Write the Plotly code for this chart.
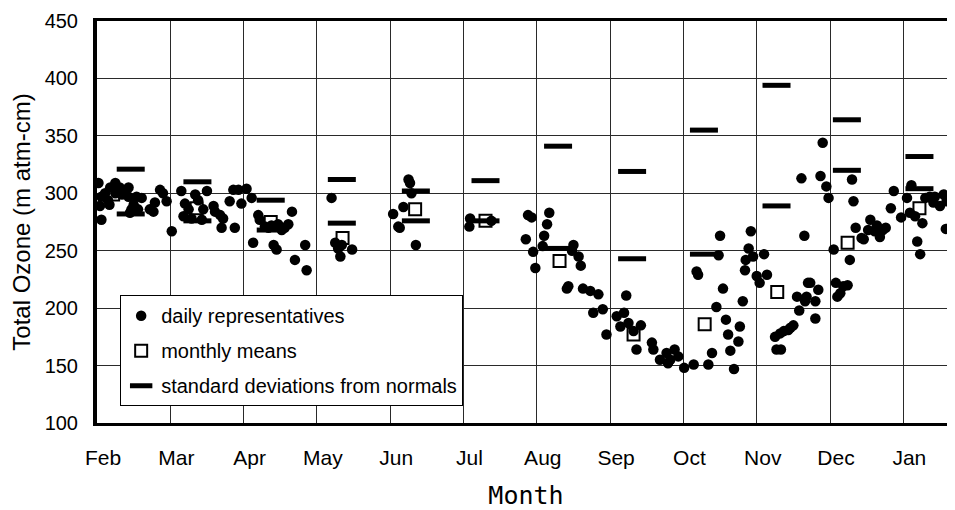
import plotly.graph_objects as go

# ---- data ----
months = ["Feb", "Mar", "Apr", "May", "Jun", "Jul", "Aug", "Sep", "Oct", "Nov", "Dec", "Jan"]

# daily representatives: x = months since 1 Feb (fractional), y = total ozone
daily_x = [
    0.02, 0.06, 0.04, 0.18, 0.25, 0.15, 0.17, 0.31, 0.34, 0.43, 0.43, 0.47, 0.45, 0.56, 0.54,
    0.61, 0.72, 0.77, 0.79, 0.86, 0.90, 0.95, 0.06, 0.11, 0.38, 0.50, 0.25,
    1.02, 1.15, 1.20, 1.34, 1.38, 1.25, 1.18, 1.29, 1.43, 1.50, 1.45, 1.59, 1.61, 1.68, 1.72,
    1.70, 1.81, 1.88, 1.86, 1.93, 1.97,
    2.04, 2.11, 2.20, 2.22, 2.29, 2.34, 2.47, 2.56, 2.61, 2.66, 2.13, 2.41, 2.45, 2.70, 2.84,
    2.86, 2.38, 2.52,
    3.20, 3.25, 3.29, 3.32, 3.48, 3.34,
    4.25, 4.27, 4.29, 4.18, 4.04, 4.13, 4.11, 4.35,
    5.09, 5.08, 5.38, 5.88, 5.93, 5.85, 5.95, 5.98,
    6.17, 6.14, 6.10, 6.08, 6.50, 6.57, 6.60, 6.43, 6.41, 6.63, 6.73, 6.84, 6.77, 6.90, 6.95,
    6.48,
    7.22, 7.09, 7.19, 7.14, 7.25, 7.32, 7.42, 7.36, 7.57, 7.59, 7.68, 7.77, 7.79, 7.82, 7.88,
    7.93,
    8.01, 8.14, 8.34, 8.39, 8.69, 8.50, 8.92, 8.48, 8.18, 8.20, 8.54, 8.81, 8.45, 8.58, 8.61,
    8.77, 8.75, 8.64, 8.89, 8.85, 8.84,
    9.00, 9.04, 8.95, 9.10, 9.14, 9.25, 9.32, 9.43, 9.50, 9.27, 9.33, 9.61, 9.65, 9.55, 9.66,
    9.58, 9.70, 9.90, 9.87, 9.95, 9.98, 9.73, 9.84, 9.68, 9.80, 9.80, 9.37, 9.46,
    10.05, 10.27, 10.08, 10.18, 10.14, 10.24, 10.10, 10.30, 10.32, 10.35, 10.43, 10.55, 10.52,
    10.61, 10.68, 10.76, 10.87, 10.83, 10.97, 10.46, 10.72, 10.64,
    11.11, 11.05, 11.09, 11.16, 11.26, 11.19, 11.23, 11.30, 11.36, 11.41, 11.50, 11.55, 11.59,
    11.58, 11.70, 11.43,
]
daily_y = [
    309, 277, 289, 305, 309, 294, 290, 305, 299, 305, 297, 286, 283, 286, 297,
    296, 286, 284, 292, 303, 300, 293, 297, 300, 300, 290, 300,
    267, 302, 291, 299, 294, 286, 280, 278, 277, 302, 286, 289, 284, 281, 278,
    270, 293, 270, 303, 303, 291,
    304, 296, 281, 277, 271, 270, 273, 270, 273, 284, 257, 255, 251, 242, 255,
    233, 272, 268,
    296, 257, 252, 245, 251, 255,
    312, 309, 300, 288, 282, 270, 271, 255,
    278, 271, 276, 281, 279, 260, 249, 235,
    283, 273, 263, 254, 255, 245, 237, 219, 217, 217, 215, 212, 196, 199, 177,
    250,
    211, 193, 196, 184, 187, 180, 185, 164, 170, 164, 155, 161, 152, 155, 164,
    158,
    148, 151, 151, 161, 147, 263, 267, 246, 232, 229, 217, 206, 201, 190, 177,
    184, 171, 163, 252, 242, 233,
    228, 222, 245, 247, 229, 175, 178, 181, 185, 164, 164, 313, 263, 210, 206,
    198, 222, 344, 315, 306, 296, 222, 216, 210, 206, 191, 180, 183,
    251, 242, 222, 219, 213, 220, 210, 312, 293, 270, 261, 277, 268,
    267, 262, 270, 302, 287, 279, 260, 268, 272,
    307, 296, 283, 280, 274, 258, 247, 296, 297, 292, 289, 299, 293,
    269, 302, 297,
]

# monthly means
mean_x = [0.22, 1.36, 2.37, 3.35, 4.34, 5.30, 6.31, 7.32, 8.29, 9.28, 10.24, 11.22]
mean_y = [299, 287, 275, 261, 286, 276, 241, 177, 186, 214, 257, 287]

# standard deviations from normals (upper and lower marks)
sd_x = [0.46, 1.37, 2.37, 3.34, 4.35, 5.30, 6.29, 7.30, 8.28, 9.27, 10.23, 11.22]
sd_upper = [321, 310, 294, 312, 302, 311, 341, 319, 355, 394, 364, 332]
sd_lower = [282, 276, 268, 274, 276, 276, 252, 243, 247, 289, 320, 304]

fig = go.Figure()

fig.add_trace(go.Scatter(
    x=mean_x, y=mean_y, mode="markers", name="monthly means", legendrank=2, legendgroup="b",
    marker=dict(symbol="square", size=12, color="white", line=dict(color="black", width=2)),
))
fig.add_trace(go.Scatter(
    x=daily_x, y=daily_y, mode="markers", name="daily representatives", legendrank=1,
    legendgroup="a",
    marker=dict(symbol="circle", size=10.5, color="black", line=dict(width=0)),
))
fig.add_trace(go.Scatter(
    x=sd_x + sd_x, y=sd_upper + sd_lower, mode="markers",
    name="standard deviations from normals", legendrank=3, legendgroup="c",
    marker=dict(symbol="line-ew", size=20, color="black", line=dict(color="black", width=5)),
))

grid = "#2a2a2a"
fig.update_layout(
    width=947, height=502,
    margin=dict(l=89, r=0, t=13, b=87),
    paper_bgcolor="white", plot_bgcolor="white",
    font=dict(family="Liberation Sans, Arial, sans-serif", color="black"),
    showlegend=True,
    legend=dict(
        x=0.027, y=0.318, xanchor="left", yanchor="top",
        bgcolor="white", bordercolor="black", borderwidth=1,
        font=dict(size=20, color="black"),
        tracegroupgap=6, traceorder="grouped",
    ),
    xaxis=dict(
        range=[0, 11.705], tickvals=list(range(12)), ticktext=months,
        showgrid=True, gridcolor=grid, gridwidth=1, zeroline=False,
        showline=True, linecolor="black", linewidth=3, mirror=True,
        ticks="", tickfont=dict(size=21), ticklabelstandoff=14, ticklabelshift=6,
        title=dict(text="Month", font=dict(family="DejaVu Sans Mono", size=25), standoff=19),
    ),
    yaxis=dict(
        range=[100, 450], dtick=50, tick0=100,
        showgrid=True, gridcolor=grid, gridwidth=1, zeroline=False,
        showline=True, linecolor="black", linewidth=4, mirror=False,
        ticks="", tickfont=dict(size=20), ticklabelstandoff=11,
        title=dict(text="Total Ozone (m atm-cm)", font=dict(size=24), standoff=8),
    ),
)

fig.write_html("out.html")
